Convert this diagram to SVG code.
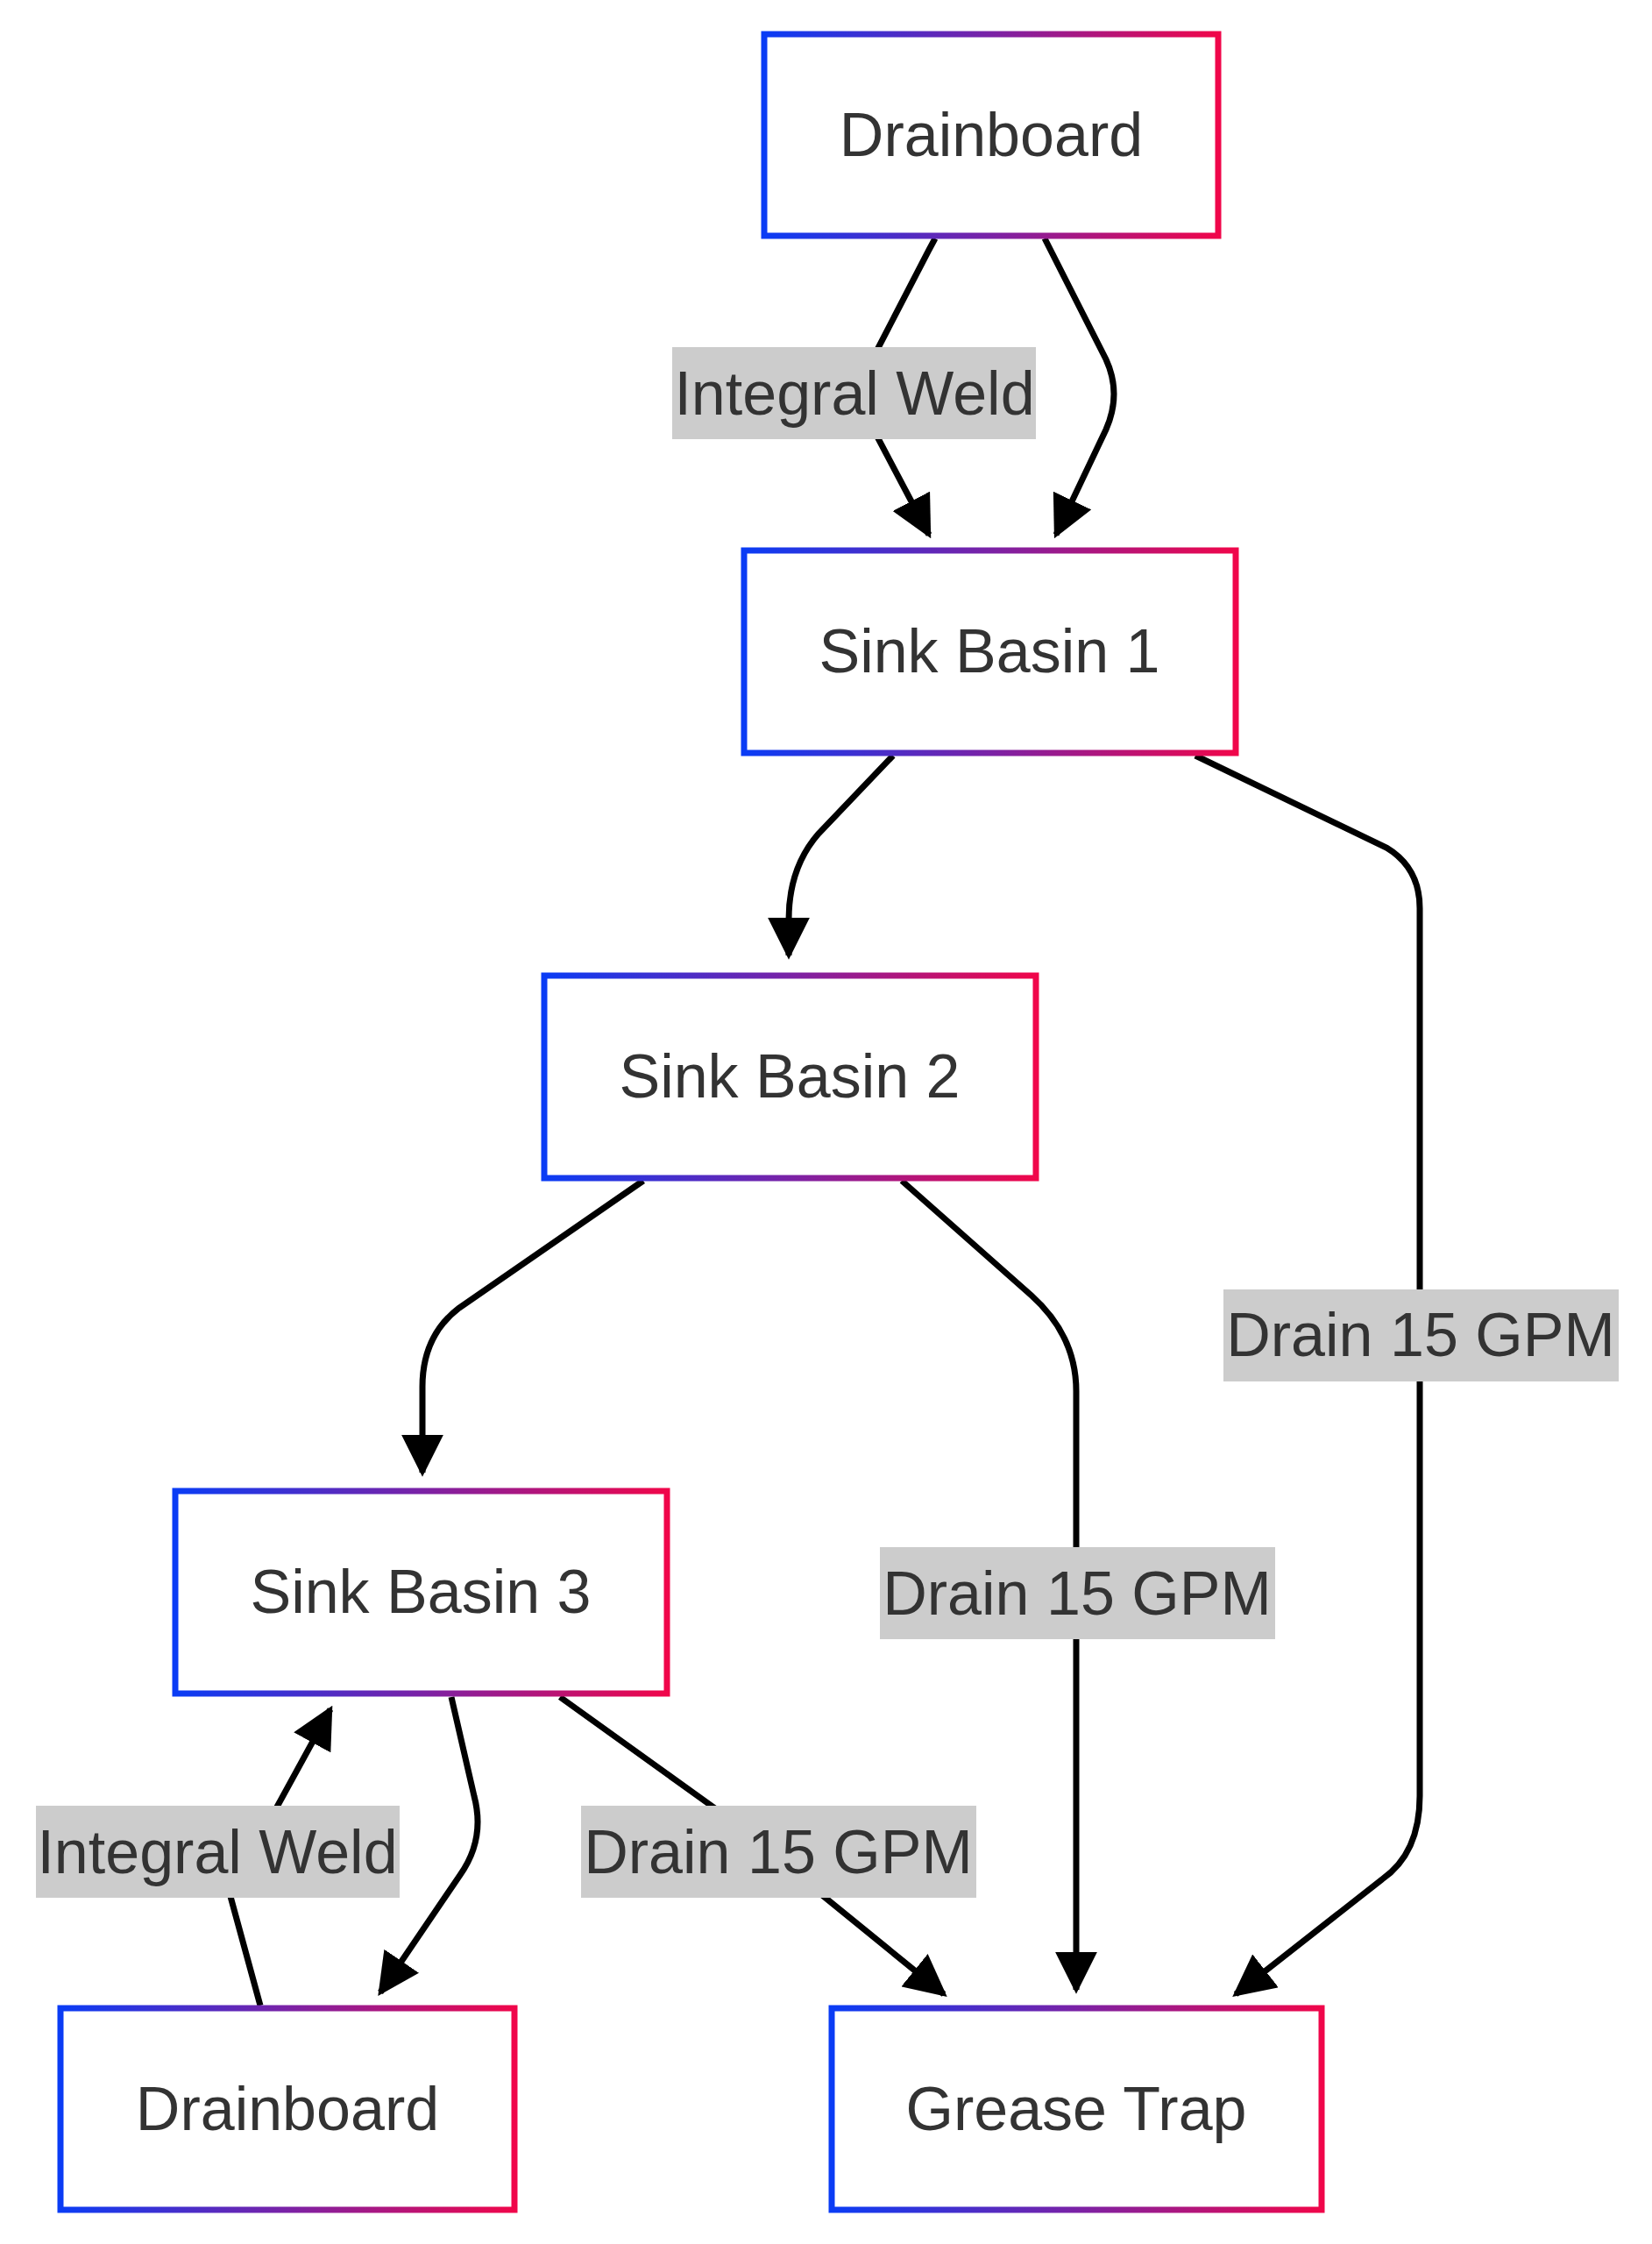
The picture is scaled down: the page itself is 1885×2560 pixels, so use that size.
<svg xmlns="http://www.w3.org/2000/svg" width="1885" height="2560" viewBox="0 0 1885 2560">
<style>
.node rect{fill:#fff;stroke:url(#g);stroke-width:7}
.node text,.lbl text{font-family:"Liberation Sans",Arial,sans-serif;font-size:70px;fill:#333;text-anchor:middle;dominant-baseline:central}
.edge{fill:none;stroke:#000;stroke-width:7;marker-end:url(#a)}
.lbl rect{fill:#cccccc}
</style>
<defs>
<linearGradient id="g" x1="0" y1="0" x2="1" y2="0"><stop offset="0" stop-color="#0a3cf5"/><stop offset="0.5" stop-color="#7a22a6"/><stop offset="1" stop-color="#f0064a"/></linearGradient>
<marker id="a" viewBox="0 0 10 10" refX="9" refY="5" markerUnits="userSpaceOnUse" markerWidth="48" markerHeight="48" orient="auto"><path d="M0,0 L10,5 L0,10 z" fill="#000"/></marker>
</defs>
<g id="edges">
<path class="edge" d="M1067,272 L1060,285 L975,449 L1060,610"/>
<path class="edge" d="M1192,272 L1262,410 Q1280,449 1262,490 L1205,610"/>
<path class="edge" d="M1019,862 L934,951 Q900,990 900,1049 L900,1090"/>
<path class="edge" d="M1364,862 L1582,967 Q1620,990 1620,1036 L1620,2049 Q1620,2114 1577,2144 L1410,2275"/>
<path class="edge" d="M734,1347 L524,1492 Q482,1524 482,1582 L482,1680"/>
<path class="edge" d="M1029,1347 L1177,1478 Q1228,1524 1228,1587 L1228,2270"/>
<path class="edge" d="M639,1936 L820,2066 L1077,2275"/>
<path class="edge" d="M515,1936 L541,2049 Q554,2098 525,2139 L434,2273"/>
<path class="edge" d="M297,2288 L262,2160 L377,1950"/>
<g class="lbl"><rect x="767" y="396" width="415" height="105"/><text x="975" y="449">Integral Weld</text></g>
<g class="lbl"><rect x="1396" y="1471" width="451" height="105"/><text x="1621" y="1523">Drain 15 GPM</text></g>
<g class="lbl"><rect x="1004" y="1765" width="451" height="105"/><text x="1229" y="1818">Drain 15 GPM</text></g>
<g class="lbl"><rect x="663" y="2060" width="451" height="105"/><text x="888" y="2113">Drain 15 GPM</text></g>
<g class="lbl"><rect x="41" y="2060" width="415" height="105"/><text x="248" y="2113">Integral Weld</text></g>
</g>
<g id="n1" class="node"><rect x="872" y="39" width="518" height="230"/><text x="1131" y="154">Drainboard</text></g>
<g id="n2" class="node"><rect x="849" y="628" width="561" height="231"/><text x="1129" y="743">Sink Basin 1</text></g>
<g id="n3" class="node"><rect x="621" y="1113" width="561" height="231"/><text x="901" y="1228">Sink Basin 2</text></g>
<g id="n4" class="node"><rect x="200" y="1701" width="561" height="231"/><text x="480" y="1816">Sink Basin 3</text></g>
<g id="n5" class="node"><rect x="69" y="2291" width="518" height="230"/><text x="328" y="2406">Drainboard</text></g>
<g id="n6" class="node"><rect x="949" y="2291" width="559" height="230"/><text x="1228" y="2406">Grease Trap</text></g>
</svg>
